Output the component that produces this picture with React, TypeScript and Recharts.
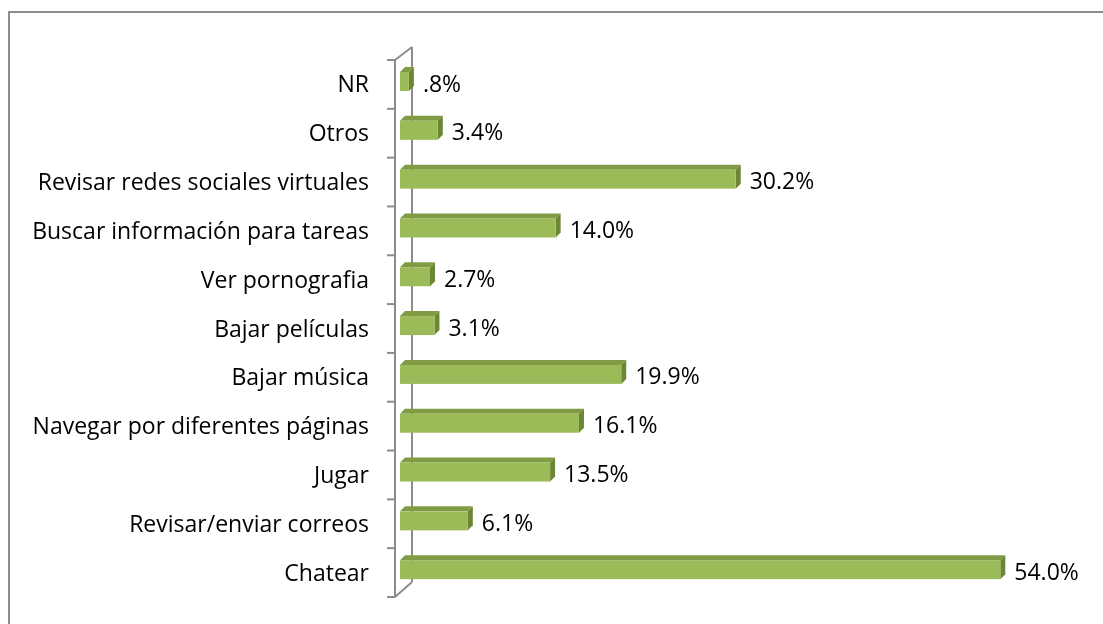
import { BarChart, Bar, XAxis, YAxis, LabelList } from 'recharts';

const categories = [
  'NR',
  'Otros',
  'Revisar redes sociales virtuales',
  'Buscar información para tareas',
  'Ver pornografia',
  'Bajar películas',
  'Bajar música',
  'Navegar por diferentes páginas',
  'Jugar',
  'Revisar/enviar correos',
  'Chatear',
];

const percentages = [0.8, 3.4, 30.2, 14.0, 2.7, 3.1, 19.9, 16.1, 13.5, 6.1, 54.0];

const W = 1103;
const H = 624;
const LEFT = 400;
const TOP = 57;
const BOTTOM = 30;
const RIGHT = 36;
const PLOT_H = H - TOP - BOTTOM;
const DEPTH = 5;
const FONT = '"Open Sans", sans-serif';

const chartData = categories.map((name, i) => ({ name, value: percentages[i] }));

function fmt(v: number) {
  const s = v.toFixed(1);
  return (s.startsWith('0.') ? s.slice(1) : s) + '%';
}

// 3D-looking bar: front face, darker top and right side
function Bar3D(props: any) {
  const { x, y, width, height } = props;
  if (width == null || width <= 0) return null;
  const d = DEPTH;
  return (
    <g>
      <polygon
        points={`${x},${y} ${x + d},${y - d} ${x + width + d},${y - d} ${x + width},${y}`}
        fill="#7f9c44"
      />
      <polygon
        points={`${x + width},${y} ${x + width + d},${y - d} ${x + width + d},${y + height - d} ${x + width},${y + height}`}
        fill="#6b8733"
      />
      <rect x={x} y={y} width={width} height={height} fill="#9bbb59" />
    </g>
  );
}

function CategoryTick(props: any) {
  const { y, payload } = props;
  return (
    <text x={LEFT - 31} y={y + 11} textAnchor="end" fill="#000" fontSize={23} fontFamily={FONT}>
      {payload.value}
    </text>
  );
}

function ValueLabel(props: any) {
  const { x, y, width, height, value } = props;
  return (
    <text
      x={x + width + 14}
      y={y + height / 2 + 10}
      textAnchor="start"
      fill="#000"
      fontSize={23}
      fontFamily={FONT}
    >
      {fmt(value)}
    </text>
  );
}

// the wall of the 3D category axis
function Wall() {
  const fx = LEFT - 5;
  const bx = LEFT + 12;
  const ft = TOP + 3;
  const fb = TOP + PLOT_H + 3;
  const bt = TOP - 10;
  const bb = TOP + PLOT_H - 12;
  const band = PLOT_H / categories.length;
  const stroke = '#8c8c8c';
  return (
    <g>
      <line x1={bx} y1={bt} x2={bx} y2={bb} stroke={stroke} strokeWidth={2} />
      <line x1={fx} y1={ft} x2={bx} y2={bt} stroke={stroke} strokeWidth={2} />
      <line x1={fx} y1={fb} x2={bx} y2={bb} stroke={stroke} strokeWidth={2} />
      <line x1={fx} y1={ft} x2={fx} y2={fb} stroke={stroke} strokeWidth={2} />
      {Array.from({ length: categories.length + 1 }, (_, i) => (
        <line
          key={i}
          x1={fx - 8}
          y1={ft + i * band}
          x2={fx}
          y2={ft + i * band}
          stroke={stroke}
          strokeWidth={2}
        />
      ))}
    </g>
  );
}

export default function App() {
  return (
    <div>
      <div
        style={{
          position: 'fixed',
          left: 8,
          top: 11,
          width: 1095,
          height: 613,
          borderTop: '2px solid #8c8c8c',
          borderLeft: '2px solid #8c8c8c',
          boxSizing: 'border-box',
        }}
      />
      <div style={{ position: 'fixed', left: 0, top: 0 }}>
        <BarChart
          width={W}
          height={H}
          data={chartData}
          layout="vertical"
          margin={{ top: TOP, right: RIGHT, bottom: BOTTOM, left: 0 }}
          barCategoryGap={15}
        >
          <Wall />
          <XAxis type="number" domain={[0, 60]} hide />
          <YAxis
            type="category"
            dataKey="name"
            width={LEFT}
            axisLine={false}
            tickLine={false}
            tick={<CategoryTick />}
            interval={0}
          />
          <Bar dataKey="value" barSize={19} shape={<Bar3D />} isAnimationActive={false}>
            <LabelList dataKey="value" content={<ValueLabel />} />
          </Bar>
        </BarChart>
      </div>
    </div>
  );
}
